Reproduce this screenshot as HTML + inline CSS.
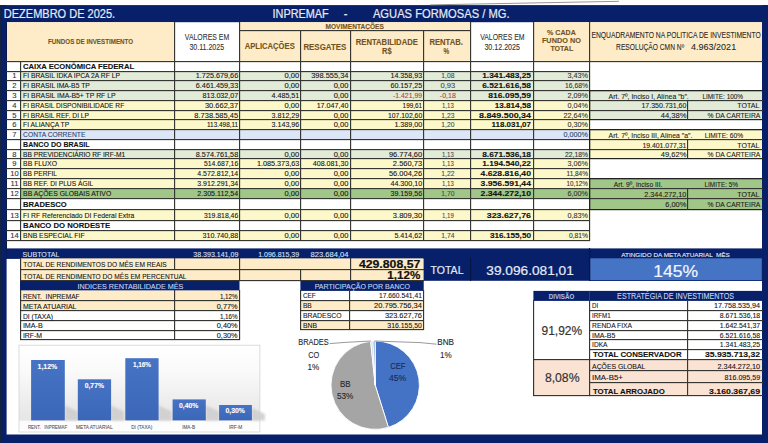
<!DOCTYPE html><html><head><meta charset="utf-8"><style>html,body{margin:0;padding:0;background:#fff;overflow:hidden}svg{display:block}text{white-space:pre;font-family:"Liberation Sans",sans-serif}</style></head><body>
<svg width="768" height="443" viewBox="0 0 768 443">
<rect x="0.00" y="0.00" width="768.00" height="443.00" fill="#ffffff"/>
<rect x="0.00" y="5.10" width="768.00" height="17.10" fill="#072069"/>
<rect x="0.00" y="5.10" width="6.60" height="437.90" fill="#072069"/>
<rect x="762.00" y="5.10" width="6.00" height="437.90" fill="#072069"/>
<rect x="0.00" y="434.50" width="768.00" height="8.50" fill="#072069"/>
<rect x="0.00" y="5.10" width="1.60" height="437.90" fill="#14243c"/>
<line x1="430" y1="4.9" x2="619" y2="1.3" stroke="#8a8a8a" stroke-width="0.9"/>
<rect x="7.00" y="22.20" width="167.50" height="39.00" fill="#feecc9"/>
<rect x="239.50" y="22.20" width="230.90" height="39.00" fill="#feecc9"/>
<rect x="533.70" y="22.20" width="228.30" height="39.00" fill="#feecc9"/>
<rect x="6.00" y="22.20" width="1.00" height="236.70" fill="#0a1a48"/>
<rect x="20.00" y="61.10" width="569.50" height="10.30" fill="#ffffff"/>
<rect x="20.00" y="71.40" width="569.50" height="9.40" fill="#e1ebd8"/>
<rect x="20.00" y="80.80" width="569.50" height="9.80" fill="#e1ebd8"/>
<rect x="20.00" y="90.60" width="569.50" height="9.80" fill="#e1ebd8"/>
<rect x="20.00" y="100.40" width="569.50" height="9.95" fill="#fdf8ca"/>
<rect x="20.00" y="110.35" width="569.50" height="9.55" fill="#fdf8ca"/>
<rect x="20.00" y="119.90" width="569.50" height="9.90" fill="#fdf8ca"/>
<rect x="20.00" y="129.80" width="569.50" height="9.70" fill="#dce6f7"/>
<rect x="20.00" y="139.50" width="569.50" height="9.50" fill="#ffffff"/>
<rect x="20.00" y="149.00" width="569.50" height="9.85" fill="#e1ebd8"/>
<rect x="20.00" y="158.85" width="569.50" height="9.65" fill="#fdf8ca"/>
<rect x="20.00" y="168.50" width="569.50" height="9.80" fill="#fdf8ca"/>
<rect x="20.00" y="178.30" width="569.50" height="9.90" fill="#fdf8ca"/>
<rect x="20.00" y="188.20" width="569.50" height="9.90" fill="#a0c788"/>
<rect x="20.00" y="198.10" width="569.50" height="11.70" fill="#ffffff"/>
<rect x="20.00" y="209.80" width="569.50" height="10.80" fill="#fdf8ca"/>
<rect x="20.00" y="220.60" width="569.50" height="9.90" fill="#ffffff"/>
<rect x="20.00" y="230.50" width="569.50" height="10.00" fill="#fdf8ca"/>
<rect x="589.50" y="90.90" width="172.50" height="28.90" fill="#e1ebd8"/>
<rect x="589.50" y="129.60" width="172.50" height="29.30" fill="#fdf8ca"/>
<rect x="589.50" y="178.50" width="172.50" height="31.20" fill="#a0c788"/>
<rect x="6.60" y="248.40" width="755.40" height="10.50" fill="#072069"/>
<rect x="589.50" y="258.00" width="172.50" height="23.00" fill="#072069"/>
<rect x="20.00" y="258.40" width="403.60" height="22.40" fill="#feecc9"/>
<rect x="423.60" y="258.00" width="165.90" height="22.80" fill="#072069"/>
<rect x="590.20" y="258.30" width="171.60" height="21.90" fill="#4674c5"/>
<rect x="20.00" y="281.00" width="219.50" height="9.60" fill="#072069"/>
<rect x="20.00" y="290.60" width="219.50" height="20.00" fill="#feecc9"/>
<rect x="300.40" y="281.00" width="123.30" height="9.90" fill="#072069"/>
<rect x="300.40" y="300.30" width="123.30" height="9.90" fill="#feecc9"/>
<rect x="300.40" y="320.20" width="123.30" height="9.70" fill="#feecc9"/>
<rect x="533.40" y="290.90" width="228.60" height="10.00" fill="#072069"/>
<rect x="589.3" y="290.9" width="0.6" height="10" fill="#3b5590"/>
<rect x="533.40" y="359.00" width="228.60" height="36.60" fill="#fbe3d4"/>
<rect x="239.00" y="30.00" width="232.00" height="1.15" fill="#363632"/>
<rect x="6.00" y="61.00" width="757.00" height="1.15" fill="#363632"/>
<rect x="174.00" y="22.00" width="1.15" height="40.00" fill="#363632"/>
<rect x="239.00" y="22.00" width="1.15" height="40.00" fill="#363632"/>
<rect x="470.00" y="22.00" width="1.15" height="40.00" fill="#363632"/>
<rect x="533.00" y="22.00" width="1.15" height="40.00" fill="#363632"/>
<rect x="589.00" y="22.00" width="1.15" height="40.00" fill="#363632"/>
<rect x="300.00" y="30.00" width="1.15" height="32.00" fill="#363632"/>
<rect x="350.00" y="30.00" width="1.15" height="32.00" fill="#363632"/>
<rect x="423.00" y="30.00" width="1.15" height="32.00" fill="#363632"/>
<rect x="6.00" y="71.00" width="584.00" height="1.15" fill="#363632"/>
<rect x="6.00" y="80.00" width="584.00" height="1.15" fill="#363632"/>
<rect x="6.00" y="90.00" width="584.00" height="1.15" fill="#363632"/>
<rect x="6.00" y="100.00" width="584.00" height="1.15" fill="#363632"/>
<rect x="6.00" y="110.00" width="584.00" height="1.15" fill="#363632"/>
<rect x="6.00" y="119.00" width="584.00" height="1.15" fill="#363632"/>
<rect x="6.00" y="129.00" width="584.00" height="1.15" fill="#363632"/>
<rect x="6.00" y="139.00" width="584.00" height="1.15" fill="#363632"/>
<rect x="6.00" y="149.00" width="584.00" height="1.15" fill="#363632"/>
<rect x="6.00" y="158.00" width="584.00" height="1.15" fill="#363632"/>
<rect x="6.00" y="168.00" width="584.00" height="1.15" fill="#363632"/>
<rect x="6.00" y="178.00" width="584.00" height="1.15" fill="#363632"/>
<rect x="6.00" y="188.00" width="584.00" height="1.15" fill="#363632"/>
<rect x="6.00" y="198.00" width="584.00" height="1.15" fill="#363632"/>
<rect x="6.00" y="209.00" width="584.00" height="1.15" fill="#363632"/>
<rect x="6.00" y="220.00" width="584.00" height="1.15" fill="#363632"/>
<rect x="6.00" y="230.00" width="584.00" height="1.15" fill="#363632"/>
<rect x="6.00" y="240.00" width="584.00" height="1.15" fill="#363632"/>
<rect x="20.00" y="61.00" width="1.15" height="180.00" fill="#363632"/>
<rect x="174.00" y="61.00" width="1.15" height="180.00" fill="#363632"/>
<rect x="239.00" y="61.00" width="1.15" height="180.00" fill="#363632"/>
<rect x="300.00" y="61.00" width="1.15" height="180.00" fill="#363632"/>
<rect x="350.00" y="61.00" width="1.15" height="180.00" fill="#363632"/>
<rect x="423.00" y="61.00" width="1.15" height="180.00" fill="#363632"/>
<rect x="470.00" y="61.00" width="1.15" height="180.00" fill="#363632"/>
<rect x="533.00" y="61.00" width="1.15" height="180.00" fill="#363632"/>
<rect x="589.00" y="61.00" width="1.15" height="180.00" fill="#363632"/>
<rect x="589.00" y="90.00" width="174.00" height="1.30" fill="#222"/>
<rect x="589.00" y="100.00" width="174.00" height="1.15" fill="#363632"/>
<rect x="589.00" y="110.00" width="174.00" height="1.15" fill="#363632"/>
<rect x="589.00" y="119.00" width="174.00" height="1.20" fill="#222"/>
<rect x="589.00" y="90.00" width="1.20" height="30.00" fill="#222"/>
<rect x="687.00" y="100.00" width="1.15" height="20.00" fill="#363632"/>
<rect x="589.00" y="129.00" width="174.00" height="1.30" fill="#222"/>
<rect x="589.00" y="139.00" width="174.00" height="1.15" fill="#363632"/>
<rect x="589.00" y="149.00" width="174.00" height="1.15" fill="#363632"/>
<rect x="589.00" y="158.00" width="174.00" height="1.20" fill="#222"/>
<rect x="589.00" y="129.00" width="1.20" height="30.00" fill="#222"/>
<rect x="687.00" y="139.00" width="1.15" height="20.00" fill="#363632"/>
<rect x="589.00" y="178.00" width="174.00" height="1.30" fill="#222"/>
<rect x="589.00" y="188.00" width="174.00" height="1.15" fill="#363632"/>
<rect x="589.00" y="198.00" width="174.00" height="1.15" fill="#363632"/>
<rect x="589.00" y="209.00" width="174.00" height="1.20" fill="#222"/>
<rect x="589.00" y="178.00" width="1.20" height="32.00" fill="#222"/>
<rect x="687.00" y="188.00" width="1.15" height="22.00" fill="#363632"/>
<rect x="20.00" y="269.00" width="404.00" height="1.15" fill="#363632"/>
<rect x="20.00" y="280.00" width="404.00" height="1.15" fill="#363632"/>
<rect x="20.00" y="258.00" width="1.15" height="23.00" fill="#363632"/>
<rect x="174.00" y="258.00" width="1.15" height="12.00" fill="#363632"/>
<rect x="239.00" y="258.00" width="1.15" height="23.00" fill="#363632"/>
<rect x="300.00" y="269.00" width="1.15" height="12.00" fill="#363632"/>
<rect x="350.00" y="258.00" width="1.15" height="23.00" fill="#363632"/>
<rect x="470.00" y="258.00" width="1.15" height="23.00" fill="#061640"/>
<rect x="589.00" y="248.00" width="1.15" height="33.00" fill="#061640"/>
<rect x="20.00" y="300.00" width="220.00" height="1.15" fill="#363632"/>
<rect x="20.00" y="310.00" width="220.00" height="1.15" fill="#363632"/>
<rect x="20.00" y="320.00" width="220.00" height="1.15" fill="#363632"/>
<rect x="20.00" y="330.00" width="220.00" height="1.15" fill="#363632"/>
<rect x="20.00" y="339.00" width="220.00" height="1.15" fill="#363632"/>
<rect x="20.00" y="290.00" width="1.15" height="50.00" fill="#363632"/>
<rect x="174.00" y="290.00" width="1.15" height="50.00" fill="#363632"/>
<rect x="239.00" y="290.00" width="1.15" height="50.00" fill="#363632"/>
<rect x="300.00" y="300.00" width="124.00" height="1.15" fill="#363632"/>
<rect x="300.00" y="310.00" width="124.00" height="1.15" fill="#363632"/>
<rect x="300.00" y="320.00" width="124.00" height="1.15" fill="#363632"/>
<rect x="300.00" y="329.00" width="124.00" height="1.15" fill="#363632"/>
<rect x="300.00" y="290.00" width="1.15" height="40.00" fill="#363632"/>
<rect x="349.00" y="290.00" width="1.15" height="40.00" fill="#363632"/>
<rect x="423.00" y="290.00" width="1.15" height="40.00" fill="#363632"/>
<rect x="589.00" y="310.00" width="174.00" height="1.15" fill="#363632"/>
<rect x="589.00" y="320.00" width="174.00" height="1.15" fill="#363632"/>
<rect x="589.00" y="330.00" width="174.00" height="1.15" fill="#363632"/>
<rect x="589.00" y="339.00" width="174.00" height="1.15" fill="#363632"/>
<rect x="589.00" y="349.00" width="174.00" height="1.15" fill="#363632"/>
<rect x="589.00" y="359.00" width="174.00" height="1.15" fill="#363632"/>
<rect x="589.00" y="370.00" width="174.00" height="1.15" fill="#363632"/>
<rect x="589.00" y="382.00" width="174.00" height="1.15" fill="#363632"/>
<rect x="589.00" y="395.00" width="174.00" height="1.15" fill="#363632"/>
<rect x="533.00" y="359.00" width="57.00" height="1.15" fill="#363632"/>
<rect x="533.00" y="395.00" width="57.00" height="1.15" fill="#363632"/>
<rect x="533.00" y="300.00" width="1.15" height="96.00" fill="#363632"/>
<rect x="589.00" y="300.00" width="1.15" height="96.00" fill="#363632"/>
<rect x="687.00" y="300.00" width="1.15" height="96.00" fill="#363632"/>
<text x="3.80" y="17.80" font-size="12.30" font-weight="400" fill="#e4ebf8" stroke="#e4ebf8" stroke-width="0.2" textLength="111.34" lengthAdjust="spacingAndGlyphs">DEZEMBRO DE 2025.</text>
<text x="272.50" y="17.80" font-size="12.30" font-weight="400" fill="#e4ebf8" stroke="#e4ebf8" stroke-width="0.2" textLength="56.27" lengthAdjust="spacingAndGlyphs">INPREMAF</text>
<text x="343.80" y="17.80" font-size="12.30" font-weight="400" fill="#e4ebf8" stroke="#e4ebf8" stroke-width="0.2" textLength="3.73" lengthAdjust="spacingAndGlyphs">-</text>
<text x="372.90" y="17.70" font-size="12.30" font-weight="400" fill="#e4ebf8" stroke="#e4ebf8" stroke-width="0.2" textLength="136.74" lengthAdjust="spacingAndGlyphs">AGUAS FORMOSAS / MG.</text>
<text x="48.00" y="43.80" font-size="7.60" font-weight="700" fill="#74531c" stroke="#74531c" stroke-width="0.1" textLength="85.10" lengthAdjust="spacingAndGlyphs">FUNDOS DE INVESTIMENTO</text>
<text x="184.80" y="39.80" font-size="8.50" font-weight="400" fill="#333" stroke="#333" stroke-width="0.1" textLength="44.38" lengthAdjust="spacingAndGlyphs">VALORES EM</text>
<text x="189.40" y="49.60" font-size="8.50" font-weight="400" fill="#333" stroke="#333" stroke-width="0.1" textLength="34.70" lengthAdjust="spacingAndGlyphs">30.11.2025</text>
<text x="325.50" y="29.10" font-size="7.20" font-weight="700" fill="#74531c" stroke="#74531c" stroke-width="0.1" textLength="58.30" lengthAdjust="spacingAndGlyphs">MOVIMENTAÇÕES</text>
<text x="244.70" y="49.20" font-size="8.20" font-weight="700" fill="#74531c" stroke="#74531c" stroke-width="0.1" textLength="50.07" lengthAdjust="spacingAndGlyphs">APLICAÇÕES</text>
<text x="303.40" y="49.50" font-size="8.20" font-weight="700" fill="#74531c" stroke="#74531c" stroke-width="0.1" textLength="42.88" lengthAdjust="spacingAndGlyphs">RESGATES</text>
<text x="355.80" y="44.60" font-size="8.20" font-weight="700" fill="#74531c" stroke="#74531c" stroke-width="0.1" textLength="62.02" lengthAdjust="spacingAndGlyphs">RENTABILIDADE</text>
<text x="382.00" y="54.20" font-size="8.20" font-weight="700" fill="#74531c" stroke="#74531c" stroke-width="0.1" textLength="9.59" lengthAdjust="spacingAndGlyphs">R$</text>
<text x="429.40" y="44.60" font-size="8.20" font-weight="700" fill="#74531c" stroke="#74531c" stroke-width="0.1" textLength="33.50" lengthAdjust="spacingAndGlyphs">RENTAB.</text>
<text x="443.50" y="54.20" font-size="8.20" font-weight="700" fill="#74531c" stroke="#74531c" stroke-width="0.1" textLength="5.69" lengthAdjust="spacingAndGlyphs">%</text>
<text x="480.20" y="39.80" font-size="8.50" font-weight="400" fill="#333" stroke="#333" stroke-width="0.1" textLength="44.28" lengthAdjust="spacingAndGlyphs">VALORES EM</text>
<text x="484.40" y="49.60" font-size="8.50" font-weight="400" fill="#333" stroke="#333" stroke-width="0.1" textLength="35.53" lengthAdjust="spacingAndGlyphs">30.12.2025</text>
<text x="547.00" y="35.20" font-size="6.90" font-weight="700" fill="#74531c" stroke="#74531c" stroke-width="0.1" textLength="28.77" lengthAdjust="spacingAndGlyphs">% CADA</text>
<text x="541.90" y="43.20" font-size="6.90" font-weight="700" fill="#74531c" stroke="#74531c" stroke-width="0.1" textLength="39.02" lengthAdjust="spacingAndGlyphs">FUNDO NO</text>
<text x="550.40" y="50.80" font-size="6.90" font-weight="700" fill="#74531c" stroke="#74531c" stroke-width="0.1" textLength="22.80" lengthAdjust="spacingAndGlyphs">TOTAL</text>
<text x="591.50" y="38.30" font-size="8.60" font-weight="400" fill="#2a2a2a" stroke="#2a2a2a" stroke-width="0.1" textLength="169.19" lengthAdjust="spacingAndGlyphs">ENQUADRAMENTO NA POLITICA DE INVESTIMENTO</text>
<text x="616.10" y="49.80" font-size="8.60" font-weight="400" fill="#2a2a2a" stroke="#2a2a2a" stroke-width="0.1" textLength="68.00" lengthAdjust="spacingAndGlyphs">RESOLUÇÃO CMN Nº</text>
<text x="691.10" y="49.80" font-size="9.40" font-weight="400" fill="#2a2a2a" stroke="#2a2a2a" stroke-width="0.1" textLength="45.04" lengthAdjust="spacingAndGlyphs">4.963/2021</text>
<text x="23.10" y="69.05" font-size="7.90" font-weight="700" fill="#111" stroke="#111" stroke-width="0.1" textLength="110.98" lengthAdjust="spacingAndGlyphs">CAIXA ECONÔMICA FEDERAL</text>
<text x="12.37" y="78.45" font-size="7.60" font-weight="400" fill="#333" stroke="#333" stroke-width="0.1" textLength="4.23" lengthAdjust="spacingAndGlyphs">1</text>
<text x="23.10" y="78.45" font-size="7.40" font-weight="400" fill="#141414" stroke="#141414" stroke-width="0.1" textLength="96.88" lengthAdjust="spacingAndGlyphs">FI BRASIL IDKA IPCA 2A RF LP</text>
<text x="195.79" y="78.45" font-size="7.40" font-weight="400" fill="#141414" stroke="#141414" stroke-width="0.1" textLength="42.40" lengthAdjust="spacingAndGlyphs">1.725.679,66</text>
<text x="284.57" y="78.45" font-size="7.40" font-weight="400" fill="#141414" stroke="#141414" stroke-width="0.1" textLength="14.70" lengthAdjust="spacingAndGlyphs">0,00</text>
<text x="311.20" y="78.45" font-size="7.40" font-weight="400" fill="#141414" stroke="#141414" stroke-width="0.1" textLength="37.23" lengthAdjust="spacingAndGlyphs">398.555,34</text>
<text x="390.44" y="78.45" font-size="7.40" font-weight="400" fill="#141414" stroke="#141414" stroke-width="0.1" textLength="31.75" lengthAdjust="spacingAndGlyphs">14.358,93</text>
<text x="441.28" y="78.45" font-size="7.40" font-weight="400" fill="#4a4a4a" stroke="#4a4a4a" stroke-width="0.1" textLength="13.20" lengthAdjust="spacingAndGlyphs">1,08</text>
<text x="482.19" y="78.45" font-size="7.40" font-weight="700" fill="#111" stroke="#111" stroke-width="0.1" textLength="48.80" lengthAdjust="spacingAndGlyphs">1.341.483,25</text>
<text x="567.47" y="78.45" font-size="7.40" font-weight="400" fill="#333" stroke="#333" stroke-width="0.1" textLength="20.50" lengthAdjust="spacingAndGlyphs">3,43%</text>
<text x="12.37" y="88.25" font-size="7.60" font-weight="400" fill="#333" stroke="#333" stroke-width="0.1" textLength="4.23" lengthAdjust="spacingAndGlyphs">2</text>
<text x="23.10" y="88.25" font-size="7.40" font-weight="400" fill="#141414" stroke="#141414" stroke-width="0.1" textLength="66.77" lengthAdjust="spacingAndGlyphs">FI BRASIL IMA-B5 TP</text>
<text x="195.79" y="88.25" font-size="7.40" font-weight="400" fill="#141414" stroke="#141414" stroke-width="0.1" textLength="42.40" lengthAdjust="spacingAndGlyphs">6.461.459,33</text>
<text x="284.57" y="88.25" font-size="7.40" font-weight="400" fill="#141414" stroke="#141414" stroke-width="0.1" textLength="14.70" lengthAdjust="spacingAndGlyphs">0,00</text>
<text x="333.67" y="88.25" font-size="7.40" font-weight="400" fill="#141414" stroke="#141414" stroke-width="0.1" textLength="14.70" lengthAdjust="spacingAndGlyphs">0,00</text>
<text x="390.44" y="88.25" font-size="7.40" font-weight="400" fill="#141414" stroke="#141414" stroke-width="0.1" textLength="31.75" lengthAdjust="spacingAndGlyphs">60.157,25</text>
<text x="440.53" y="88.25" font-size="7.40" font-weight="400" fill="#4a4a4a" stroke="#4a4a4a" stroke-width="0.1" textLength="14.70" lengthAdjust="spacingAndGlyphs">0,93</text>
<text x="482.19" y="88.25" font-size="7.40" font-weight="700" fill="#111" stroke="#111" stroke-width="0.1" textLength="48.80" lengthAdjust="spacingAndGlyphs">6.521.616,58</text>
<text x="565.03" y="88.25" font-size="7.40" font-weight="400" fill="#333" stroke="#333" stroke-width="0.1" textLength="22.98" lengthAdjust="spacingAndGlyphs">16,68%</text>
<text x="12.37" y="98.05" font-size="7.60" font-weight="400" fill="#333" stroke="#333" stroke-width="0.1" textLength="4.23" lengthAdjust="spacingAndGlyphs">3</text>
<text x="23.10" y="98.05" font-size="7.40" font-weight="400" fill="#141414" stroke="#141414" stroke-width="0.1" textLength="92.42" lengthAdjust="spacingAndGlyphs">FI BRASIL IMA-B5+ TP RF LP</text>
<text x="202.50" y="98.05" font-size="7.40" font-weight="400" fill="#141414" stroke="#141414" stroke-width="0.1" textLength="35.73" lengthAdjust="spacingAndGlyphs">813.032,07</text>
<text x="271.48" y="98.05" font-size="7.40" font-weight="400" fill="#141414" stroke="#141414" stroke-width="0.1" textLength="27.84" lengthAdjust="spacingAndGlyphs">4.485,51</text>
<text x="333.67" y="98.05" font-size="7.40" font-weight="400" fill="#141414" stroke="#141414" stroke-width="0.1" textLength="14.70" lengthAdjust="spacingAndGlyphs">0,00</text>
<text x="392.88" y="98.05" font-size="7.40" font-weight="400" fill="#c23b30" stroke="#c23b30" stroke-width="0.1" textLength="29.29" lengthAdjust="spacingAndGlyphs">-1.421,99</text>
<text x="439.78" y="98.05" font-size="7.40" font-weight="400" fill="#c23b30" stroke="#c23b30" stroke-width="0.1" textLength="16.22" lengthAdjust="spacingAndGlyphs">-0,18</text>
<text x="488.32" y="98.05" font-size="7.40" font-weight="700" fill="#111" stroke="#111" stroke-width="0.1" textLength="42.72" lengthAdjust="spacingAndGlyphs">816.095,59</text>
<text x="567.47" y="98.05" font-size="7.40" font-weight="400" fill="#333" stroke="#333" stroke-width="0.1" textLength="20.50" lengthAdjust="spacingAndGlyphs">2,09%</text>
<text x="12.37" y="108.00" font-size="7.60" font-weight="400" fill="#333" stroke="#333" stroke-width="0.1" textLength="4.23" lengthAdjust="spacingAndGlyphs">4</text>
<text x="23.10" y="108.00" font-size="7.40" font-weight="400" fill="#141414" stroke="#141414" stroke-width="0.1" textLength="101.13" lengthAdjust="spacingAndGlyphs">FI BRASIL DISPONIBILIDADE RF</text>
<text x="204.94" y="108.00" font-size="7.40" font-weight="400" fill="#141414" stroke="#141414" stroke-width="0.1" textLength="33.25" lengthAdjust="spacingAndGlyphs">30.662,37</text>
<text x="284.57" y="108.00" font-size="7.40" font-weight="400" fill="#141414" stroke="#141414" stroke-width="0.1" textLength="14.70" lengthAdjust="spacingAndGlyphs">0,00</text>
<text x="316.64" y="108.00" font-size="7.40" font-weight="400" fill="#141414" stroke="#141414" stroke-width="0.1" textLength="31.75" lengthAdjust="spacingAndGlyphs">17.047,40</text>
<text x="402.59" y="108.00" font-size="7.40" font-weight="400" fill="#141414" stroke="#141414" stroke-width="0.1" textLength="19.60" lengthAdjust="spacingAndGlyphs">199,61</text>
<text x="442.03" y="108.00" font-size="7.40" font-weight="400" fill="#4a4a4a" stroke="#4a4a4a" stroke-width="0.1" textLength="11.71" lengthAdjust="spacingAndGlyphs">1,13</text>
<text x="494.69" y="108.00" font-size="7.40" font-weight="700" fill="#111" stroke="#111" stroke-width="0.1" textLength="36.30" lengthAdjust="spacingAndGlyphs">13.814,58</text>
<text x="567.47" y="108.00" font-size="7.40" font-weight="400" fill="#333" stroke="#333" stroke-width="0.1" textLength="20.50" lengthAdjust="spacingAndGlyphs">0,04%</text>
<text x="12.37" y="117.55" font-size="7.60" font-weight="400" fill="#333" stroke="#333" stroke-width="0.1" textLength="4.23" lengthAdjust="spacingAndGlyphs">5</text>
<text x="23.10" y="117.55" font-size="7.40" font-weight="400" fill="#141414" stroke="#141414" stroke-width="0.1" textLength="65.90" lengthAdjust="spacingAndGlyphs">FI BRASIL REF. DI LP</text>
<text x="194.29" y="117.55" font-size="7.40" font-weight="400" fill="#141414" stroke="#141414" stroke-width="0.1" textLength="43.90" lengthAdjust="spacingAndGlyphs">8.738.585,45</text>
<text x="271.48" y="117.55" font-size="7.40" font-weight="400" fill="#141414" stroke="#141414" stroke-width="0.1" textLength="27.84" lengthAdjust="spacingAndGlyphs">3.812,29</text>
<text x="333.67" y="117.55" font-size="7.40" font-weight="400" fill="#141414" stroke="#141414" stroke-width="0.1" textLength="14.70" lengthAdjust="spacingAndGlyphs">0,00</text>
<text x="388.00" y="117.55" font-size="7.40" font-weight="400" fill="#141414" stroke="#141414" stroke-width="0.1" textLength="34.23" lengthAdjust="spacingAndGlyphs">107.102,60</text>
<text x="441.28" y="117.55" font-size="7.40" font-weight="400" fill="#4a4a4a" stroke="#4a4a4a" stroke-width="0.1" textLength="13.20" lengthAdjust="spacingAndGlyphs">1,23</text>
<text x="478.99" y="117.55" font-size="7.40" font-weight="700" fill="#111" stroke="#111" stroke-width="0.1" textLength="51.99" lengthAdjust="spacingAndGlyphs">8.849.500,34</text>
<text x="563.53" y="117.55" font-size="7.40" font-weight="400" fill="#333" stroke="#333" stroke-width="0.1" textLength="24.48" lengthAdjust="spacingAndGlyphs">22,64%</text>
<text x="12.37" y="127.45" font-size="7.60" font-weight="400" fill="#333" stroke="#333" stroke-width="0.1" textLength="4.23" lengthAdjust="spacingAndGlyphs">6</text>
<text x="23.10" y="127.45" font-size="7.40" font-weight="400" fill="#141414" stroke="#141414" stroke-width="0.1" textLength="46.02" lengthAdjust="spacingAndGlyphs">FI ALIANÇA TP</text>
<text x="207.00" y="127.45" font-size="7.40" font-weight="400" fill="#141414" stroke="#141414" stroke-width="0.1" textLength="31.17" lengthAdjust="spacingAndGlyphs">113.498,11</text>
<text x="271.48" y="127.45" font-size="7.40" font-weight="400" fill="#141414" stroke="#141414" stroke-width="0.1" textLength="27.84" lengthAdjust="spacingAndGlyphs">3.143,96</text>
<text x="333.67" y="127.45" font-size="7.40" font-weight="400" fill="#141414" stroke="#141414" stroke-width="0.1" textLength="14.70" lengthAdjust="spacingAndGlyphs">0,00</text>
<text x="394.38" y="127.45" font-size="7.40" font-weight="400" fill="#141414" stroke="#141414" stroke-width="0.1" textLength="27.84" lengthAdjust="spacingAndGlyphs">1.389,00</text>
<text x="441.28" y="127.45" font-size="7.40" font-weight="400" fill="#4a4a4a" stroke="#4a4a4a" stroke-width="0.1" textLength="13.20" lengthAdjust="spacingAndGlyphs">1,20</text>
<text x="491.52" y="127.45" font-size="7.40" font-weight="700" fill="#111" stroke="#111" stroke-width="0.1" textLength="39.47" lengthAdjust="spacingAndGlyphs">118.031,07</text>
<text x="567.47" y="127.45" font-size="7.40" font-weight="400" fill="#333" stroke="#333" stroke-width="0.1" textLength="20.50" lengthAdjust="spacingAndGlyphs">0,30%</text>
<text x="12.37" y="137.15" font-size="7.60" font-weight="400" fill="#333" stroke="#333" stroke-width="0.1" textLength="4.23" lengthAdjust="spacingAndGlyphs">7</text>
<text x="23.10" y="137.15" font-size="7.40" font-weight="400" fill="#2c4470" stroke="#2c4470" stroke-width="0.1" textLength="62.30" lengthAdjust="spacingAndGlyphs">CONTA CORRENTE</text>
<text x="563.53" y="137.15" font-size="7.40" font-weight="400" fill="#2c4470" stroke="#2c4470" stroke-width="0.1" textLength="24.48" lengthAdjust="spacingAndGlyphs">0,000%</text>
<text x="23.10" y="146.65" font-size="7.90" font-weight="700" fill="#111" stroke="#111" stroke-width="0.1" textLength="66.53" lengthAdjust="spacingAndGlyphs">BANCO DO BRASIL</text>
<text x="12.37" y="156.50" font-size="7.60" font-weight="400" fill="#333" stroke="#333" stroke-width="0.1" textLength="4.23" lengthAdjust="spacingAndGlyphs">8</text>
<text x="23.10" y="156.50" font-size="7.40" font-weight="400" fill="#141414" stroke="#141414" stroke-width="0.1" textLength="102.00" lengthAdjust="spacingAndGlyphs">BB PREVIDENCIÁRIO RF IRF-M1</text>
<text x="195.79" y="156.50" font-size="7.40" font-weight="400" fill="#141414" stroke="#141414" stroke-width="0.1" textLength="42.40" lengthAdjust="spacingAndGlyphs">8.574.761,58</text>
<text x="284.57" y="156.50" font-size="7.40" font-weight="400" fill="#141414" stroke="#141414" stroke-width="0.1" textLength="14.70" lengthAdjust="spacingAndGlyphs">0,00</text>
<text x="333.67" y="156.50" font-size="7.40" font-weight="400" fill="#141414" stroke="#141414" stroke-width="0.1" textLength="14.70" lengthAdjust="spacingAndGlyphs">0,00</text>
<text x="388.94" y="156.50" font-size="7.40" font-weight="400" fill="#141414" stroke="#141414" stroke-width="0.1" textLength="33.25" lengthAdjust="spacingAndGlyphs">96.774,60</text>
<text x="442.03" y="156.50" font-size="7.40" font-weight="400" fill="#4a4a4a" stroke="#4a4a4a" stroke-width="0.1" textLength="11.71" lengthAdjust="spacingAndGlyphs">1,13</text>
<text x="482.19" y="156.50" font-size="7.40" font-weight="700" fill="#111" stroke="#111" stroke-width="0.1" textLength="48.80" lengthAdjust="spacingAndGlyphs">8.671.536,18</text>
<text x="565.03" y="156.50" font-size="7.40" font-weight="400" fill="#333" stroke="#333" stroke-width="0.1" textLength="22.98" lengthAdjust="spacingAndGlyphs">22,18%</text>
<text x="12.37" y="166.15" font-size="7.60" font-weight="400" fill="#333" stroke="#333" stroke-width="0.1" textLength="4.23" lengthAdjust="spacingAndGlyphs">9</text>
<text x="23.10" y="166.15" font-size="7.40" font-weight="400" fill="#141414" stroke="#141414" stroke-width="0.1" textLength="33.87" lengthAdjust="spacingAndGlyphs">BB FLUXO</text>
<text x="204.00" y="166.15" font-size="7.40" font-weight="400" fill="#141414" stroke="#141414" stroke-width="0.1" textLength="34.23" lengthAdjust="spacingAndGlyphs">514.687,16</text>
<text x="256.89" y="166.15" font-size="7.40" font-weight="400" fill="#141414" stroke="#141414" stroke-width="0.1" textLength="42.40" lengthAdjust="spacingAndGlyphs">1.085.373,63</text>
<text x="312.70" y="166.15" font-size="7.40" font-weight="400" fill="#141414" stroke="#141414" stroke-width="0.1" textLength="35.73" lengthAdjust="spacingAndGlyphs">408.081,30</text>
<text x="392.88" y="166.15" font-size="7.40" font-weight="400" fill="#141414" stroke="#141414" stroke-width="0.1" textLength="29.34" lengthAdjust="spacingAndGlyphs">2.560,73</text>
<text x="442.03" y="166.15" font-size="7.40" font-weight="400" fill="#4a4a4a" stroke="#4a4a4a" stroke-width="0.1" textLength="11.71" lengthAdjust="spacingAndGlyphs">1,13</text>
<text x="482.19" y="166.15" font-size="7.40" font-weight="700" fill="#111" stroke="#111" stroke-width="0.1" textLength="48.80" lengthAdjust="spacingAndGlyphs">1.194.540,22</text>
<text x="567.47" y="166.15" font-size="7.40" font-weight="400" fill="#333" stroke="#333" stroke-width="0.1" textLength="20.50" lengthAdjust="spacingAndGlyphs">3,06%</text>
<text x="10.28" y="175.95" font-size="7.60" font-weight="400" fill="#333" stroke="#333" stroke-width="0.1" textLength="8.45" lengthAdjust="spacingAndGlyphs">10</text>
<text x="23.10" y="175.95" font-size="7.40" font-weight="400" fill="#141414" stroke="#141414" stroke-width="0.1" textLength="33.92" lengthAdjust="spacingAndGlyphs">BB PERFIL</text>
<text x="197.29" y="175.95" font-size="7.40" font-weight="400" fill="#141414" stroke="#141414" stroke-width="0.1" textLength="40.90" lengthAdjust="spacingAndGlyphs">4.572.812,14</text>
<text x="284.57" y="175.95" font-size="7.40" font-weight="400" fill="#141414" stroke="#141414" stroke-width="0.1" textLength="14.70" lengthAdjust="spacingAndGlyphs">0,00</text>
<text x="333.67" y="175.95" font-size="7.40" font-weight="400" fill="#141414" stroke="#141414" stroke-width="0.1" textLength="14.70" lengthAdjust="spacingAndGlyphs">0,00</text>
<text x="388.94" y="175.95" font-size="7.40" font-weight="400" fill="#141414" stroke="#141414" stroke-width="0.1" textLength="33.25" lengthAdjust="spacingAndGlyphs">56.004,26</text>
<text x="441.28" y="175.95" font-size="7.40" font-weight="400" fill="#4a4a4a" stroke="#4a4a4a" stroke-width="0.1" textLength="13.20" lengthAdjust="spacingAndGlyphs">1,22</text>
<text x="480.59" y="175.95" font-size="7.40" font-weight="700" fill="#111" stroke="#111" stroke-width="0.1" textLength="50.40" lengthAdjust="spacingAndGlyphs">4.628.816,40</text>
<text x="566.53" y="175.95" font-size="7.40" font-weight="400" fill="#333" stroke="#333" stroke-width="0.1" textLength="21.45" lengthAdjust="spacingAndGlyphs">11,84%</text>
<text x="10.55" y="185.85" font-size="7.60" font-weight="400" fill="#333" stroke="#333" stroke-width="0.1" textLength="7.89" lengthAdjust="spacingAndGlyphs">11</text>
<text x="23.10" y="185.85" font-size="7.40" font-weight="400" fill="#141414" stroke="#141414" stroke-width="0.1" textLength="70.12" lengthAdjust="spacingAndGlyphs">BB REF. DI PLUS ÁGIL</text>
<text x="197.29" y="185.85" font-size="7.40" font-weight="400" fill="#141414" stroke="#141414" stroke-width="0.1" textLength="40.90" lengthAdjust="spacingAndGlyphs">3.912.291,34</text>
<text x="284.57" y="185.85" font-size="7.40" font-weight="400" fill="#141414" stroke="#141414" stroke-width="0.1" textLength="14.70" lengthAdjust="spacingAndGlyphs">0,00</text>
<text x="333.67" y="185.85" font-size="7.40" font-weight="400" fill="#141414" stroke="#141414" stroke-width="0.1" textLength="14.70" lengthAdjust="spacingAndGlyphs">0,00</text>
<text x="390.44" y="185.85" font-size="7.40" font-weight="400" fill="#141414" stroke="#141414" stroke-width="0.1" textLength="31.75" lengthAdjust="spacingAndGlyphs">44.300,10</text>
<text x="442.03" y="185.85" font-size="7.40" font-weight="400" fill="#4a4a4a" stroke="#4a4a4a" stroke-width="0.1" textLength="11.71" lengthAdjust="spacingAndGlyphs">1,13</text>
<text x="480.59" y="185.85" font-size="7.40" font-weight="700" fill="#111" stroke="#111" stroke-width="0.1" textLength="50.40" lengthAdjust="spacingAndGlyphs">3.956.591,44</text>
<text x="566.53" y="185.85" font-size="7.40" font-weight="400" fill="#333" stroke="#333" stroke-width="0.1" textLength="21.48" lengthAdjust="spacingAndGlyphs">10,12%</text>
<text x="10.28" y="195.75" font-size="7.60" font-weight="400" fill="#333" stroke="#333" stroke-width="0.1" textLength="8.45" lengthAdjust="spacingAndGlyphs">12</text>
<text x="23.10" y="195.75" font-size="7.40" font-weight="400" fill="#141414" stroke="#141414" stroke-width="0.1" textLength="88.17" lengthAdjust="spacingAndGlyphs">BB AÇÕES GLOBAIS ATIVO</text>
<text x="197.29" y="195.75" font-size="7.40" font-weight="400" fill="#141414" stroke="#141414" stroke-width="0.1" textLength="40.94" lengthAdjust="spacingAndGlyphs">2.305.112,54</text>
<text x="284.57" y="195.75" font-size="7.40" font-weight="400" fill="#141414" stroke="#141414" stroke-width="0.1" textLength="14.70" lengthAdjust="spacingAndGlyphs">0,00</text>
<text x="333.67" y="195.75" font-size="7.40" font-weight="400" fill="#141414" stroke="#141414" stroke-width="0.1" textLength="14.70" lengthAdjust="spacingAndGlyphs">0,00</text>
<text x="390.44" y="195.75" font-size="7.40" font-weight="400" fill="#141414" stroke="#141414" stroke-width="0.1" textLength="31.75" lengthAdjust="spacingAndGlyphs">39.159,56</text>
<text x="441.28" y="195.75" font-size="7.40" font-weight="400" fill="#4a4a4a" stroke="#4a4a4a" stroke-width="0.1" textLength="13.20" lengthAdjust="spacingAndGlyphs">1,70</text>
<text x="480.59" y="195.75" font-size="7.40" font-weight="700" fill="#111" stroke="#111" stroke-width="0.1" textLength="50.40" lengthAdjust="spacingAndGlyphs">2.344.272,10</text>
<text x="567.47" y="195.75" font-size="7.40" font-weight="400" fill="#333" stroke="#333" stroke-width="0.1" textLength="20.50" lengthAdjust="spacingAndGlyphs">6,00%</text>
<text x="23.10" y="207.45" font-size="7.90" font-weight="700" fill="#111" stroke="#111" stroke-width="0.1" textLength="43.52" lengthAdjust="spacingAndGlyphs">BRADESCO</text>
<text x="10.28" y="218.25" font-size="7.60" font-weight="400" fill="#333" stroke="#333" stroke-width="0.1" textLength="8.45" lengthAdjust="spacingAndGlyphs">13</text>
<text x="23.10" y="218.25" font-size="7.40" font-weight="400" fill="#141414" stroke="#141414" stroke-width="0.1" textLength="111.15" lengthAdjust="spacingAndGlyphs">FI RF Referenciado DI Federal Extra</text>
<text x="204.00" y="218.25" font-size="7.40" font-weight="400" fill="#141414" stroke="#141414" stroke-width="0.1" textLength="34.23" lengthAdjust="spacingAndGlyphs">319.818,46</text>
<text x="284.57" y="218.25" font-size="7.40" font-weight="400" fill="#141414" stroke="#141414" stroke-width="0.1" textLength="14.70" lengthAdjust="spacingAndGlyphs">0,00</text>
<text x="333.67" y="218.25" font-size="7.40" font-weight="400" fill="#141414" stroke="#141414" stroke-width="0.1" textLength="14.70" lengthAdjust="spacingAndGlyphs">0,00</text>
<text x="392.88" y="218.25" font-size="7.40" font-weight="400" fill="#141414" stroke="#141414" stroke-width="0.1" textLength="29.34" lengthAdjust="spacingAndGlyphs">3.809,30</text>
<text x="442.03" y="218.25" font-size="7.40" font-weight="400" fill="#4a4a4a" stroke="#4a4a4a" stroke-width="0.1" textLength="11.71" lengthAdjust="spacingAndGlyphs">1,19</text>
<text x="486.72" y="218.25" font-size="7.40" font-weight="700" fill="#111" stroke="#111" stroke-width="0.1" textLength="44.32" lengthAdjust="spacingAndGlyphs">323.627,76</text>
<text x="567.47" y="218.25" font-size="7.40" font-weight="400" fill="#333" stroke="#333" stroke-width="0.1" textLength="20.50" lengthAdjust="spacingAndGlyphs">0,83%</text>
<text x="23.10" y="228.15" font-size="7.90" font-weight="700" fill="#111" stroke="#111" stroke-width="0.1" textLength="86.99" lengthAdjust="spacingAndGlyphs">BANCO DO NORDESTE</text>
<text x="10.28" y="238.15" font-size="7.60" font-weight="400" fill="#333" stroke="#333" stroke-width="0.1" textLength="8.45" lengthAdjust="spacingAndGlyphs">14</text>
<text x="23.10" y="238.15" font-size="7.40" font-weight="400" fill="#141414" stroke="#141414" stroke-width="0.1" textLength="61.57" lengthAdjust="spacingAndGlyphs">BNB ESPECIAL FIF</text>
<text x="202.50" y="238.15" font-size="7.40" font-weight="400" fill="#141414" stroke="#141414" stroke-width="0.1" textLength="35.73" lengthAdjust="spacingAndGlyphs">310.740,88</text>
<text x="284.57" y="238.15" font-size="7.40" font-weight="400" fill="#141414" stroke="#141414" stroke-width="0.1" textLength="14.70" lengthAdjust="spacingAndGlyphs">0,00</text>
<text x="333.67" y="238.15" font-size="7.40" font-weight="400" fill="#141414" stroke="#141414" stroke-width="0.1" textLength="14.70" lengthAdjust="spacingAndGlyphs">0,00</text>
<text x="394.38" y="238.15" font-size="7.40" font-weight="400" fill="#141414" stroke="#141414" stroke-width="0.1" textLength="27.84" lengthAdjust="spacingAndGlyphs">5.414,62</text>
<text x="441.28" y="238.15" font-size="7.40" font-weight="400" fill="#4a4a4a" stroke="#4a4a4a" stroke-width="0.1" textLength="13.20" lengthAdjust="spacingAndGlyphs">1,74</text>
<text x="489.92" y="238.15" font-size="7.40" font-weight="700" fill="#111" stroke="#111" stroke-width="0.1" textLength="41.12" lengthAdjust="spacingAndGlyphs">316.155,50</text>
<text x="568.97" y="238.15" font-size="7.40" font-weight="400" fill="#333" stroke="#333" stroke-width="0.1" textLength="19.00" lengthAdjust="spacingAndGlyphs">0,81%</text>
<text x="608.60" y="99.00" font-size="7.40" font-weight="400" fill="#1c1c1c" stroke="#1c1c1c" stroke-width="0.1" textLength="80.17" lengthAdjust="spacingAndGlyphs">Art. 7º, Inciso I, Alínea &quot;b&quot;.</text>
<text x="702.40" y="99.00" font-size="7.40" font-weight="400" fill="#1c1c1c" stroke="#1c1c1c" stroke-width="0.1" textLength="40.67" lengthAdjust="spacingAndGlyphs">LIMITE: 100%</text>
<text x="641.40" y="107.90" font-size="7.40" font-weight="400" fill="#1c1c1c" stroke="#1c1c1c" stroke-width="0.1" textLength="45.03" lengthAdjust="spacingAndGlyphs">17.350.731,60</text>
<text x="737.30" y="107.90" font-size="7.40" font-weight="400" fill="#1c1c1c" stroke="#1c1c1c" stroke-width="0.1" textLength="22.20" lengthAdjust="spacingAndGlyphs">TOTAL</text>
<text x="660.70" y="117.60" font-size="7.40" font-weight="400" fill="#1c1c1c" stroke="#1c1c1c" stroke-width="0.1" textLength="25.71" lengthAdjust="spacingAndGlyphs">44,38%</text>
<text x="707.50" y="117.60" font-size="7.40" font-weight="400" fill="#1c1c1c" stroke="#1c1c1c" stroke-width="0.1" textLength="52.78" lengthAdjust="spacingAndGlyphs">% DA CARTEIRA</text>
<text x="608.60" y="137.70" font-size="7.40" font-weight="400" fill="#1c1c1c" stroke="#1c1c1c" stroke-width="0.1" textLength="83.71" lengthAdjust="spacingAndGlyphs">Art. 7º, Inciso III, Alínea &quot;a&quot;.</text>
<text x="704.70" y="137.70" font-size="7.40" font-weight="400" fill="#1c1c1c" stroke="#1c1c1c" stroke-width="0.1" textLength="38.40" lengthAdjust="spacingAndGlyphs">LIMITE: 60%</text>
<text x="642.40" y="147.60" font-size="7.40" font-weight="400" fill="#1c1c1c" stroke="#1c1c1c" stroke-width="0.1" textLength="44.03" lengthAdjust="spacingAndGlyphs">19.401.077,31</text>
<text x="737.30" y="147.60" font-size="7.40" font-weight="400" fill="#1c1c1c" stroke="#1c1c1c" stroke-width="0.1" textLength="22.20" lengthAdjust="spacingAndGlyphs">TOTAL</text>
<text x="660.70" y="157.00" font-size="7.40" font-weight="400" fill="#1c1c1c" stroke="#1c1c1c" stroke-width="0.1" textLength="25.71" lengthAdjust="spacingAndGlyphs">49,62%</text>
<text x="707.50" y="157.00" font-size="7.40" font-weight="400" fill="#1c1c1c" stroke="#1c1c1c" stroke-width="0.1" textLength="52.78" lengthAdjust="spacingAndGlyphs">% DA CARTEIRA</text>
<text x="613.80" y="187.00" font-size="7.40" font-weight="400" fill="#1c1c1c" stroke="#1c1c1c" stroke-width="0.1" textLength="48.67" lengthAdjust="spacingAndGlyphs">Art. 9º, inciso III.</text>
<text x="704.50" y="187.00" font-size="7.40" font-weight="400" fill="#1c1c1c" stroke="#1c1c1c" stroke-width="0.1" textLength="33.52" lengthAdjust="spacingAndGlyphs">LIMITE: 5%</text>
<text x="644.20" y="196.60" font-size="7.40" font-weight="400" fill="#1c1c1c" stroke="#1c1c1c" stroke-width="0.1" textLength="42.19" lengthAdjust="spacingAndGlyphs">2.344.272,10</text>
<text x="737.30" y="196.60" font-size="7.40" font-weight="400" fill="#1c1c1c" stroke="#1c1c1c" stroke-width="0.1" textLength="22.20" lengthAdjust="spacingAndGlyphs">TOTAL</text>
<text x="665.30" y="207.30" font-size="7.40" font-weight="400" fill="#1c1c1c" stroke="#1c1c1c" stroke-width="0.1" textLength="21.07" lengthAdjust="spacingAndGlyphs">6,00%</text>
<text x="707.50" y="207.30" font-size="7.40" font-weight="400" fill="#1c1c1c" stroke="#1c1c1c" stroke-width="0.1" textLength="52.78" lengthAdjust="spacingAndGlyphs">% DA CARTEIRA</text>
<text x="22.60" y="256.50" font-size="7.40" font-weight="400" fill="#dbe3f3" stroke="#dbe3f3" stroke-width="0.1" textLength="36.77" lengthAdjust="spacingAndGlyphs">SUBTOTAL</text>
<text x="193.30" y="256.50" font-size="7.40" font-weight="400" fill="#dbe3f3" stroke="#dbe3f3" stroke-width="0.1" textLength="45.03" lengthAdjust="spacingAndGlyphs">38.393.141,09</text>
<text x="258.20" y="256.50" font-size="7.40" font-weight="400" fill="#dbe3f3" stroke="#dbe3f3" stroke-width="0.1" textLength="40.99" lengthAdjust="spacingAndGlyphs">1.096.815,39</text>
<text x="310.50" y="256.50" font-size="7.40" font-weight="400" fill="#dbe3f3" stroke="#dbe3f3" stroke-width="0.1" textLength="37.93" lengthAdjust="spacingAndGlyphs">823.684,04</text>
<text x="621.30" y="256.70" font-size="6.00" font-weight="400" fill="#e8eef8" stroke="#e8eef8" stroke-width="0.1" textLength="108.51" lengthAdjust="spacingAndGlyphs">ATINGIDO DA META ATUARIAL  MÊS</text>
<text x="23.30" y="267.10" font-size="7.40" font-weight="400" fill="#141414" stroke="#141414" stroke-width="0.1" textLength="143.39" lengthAdjust="spacingAndGlyphs">TOTAL DE RENDIMENTOS DO MÊS EM REAIS</text>
<text x="23.30" y="278.80" font-size="7.40" font-weight="400" fill="#141414" stroke="#141414" stroke-width="0.1" textLength="163.23" lengthAdjust="spacingAndGlyphs">TOTAL DE RENDIMENTO DO MÊS EM PERCENTUAL</text>
<text x="358.90" y="268.20" font-size="11.20" font-weight="700" fill="#111" stroke="#111" stroke-width="0.2" textLength="61.45" lengthAdjust="spacingAndGlyphs">429.808,57</text>
<text x="387.30" y="279.40" font-size="11.20" font-weight="700" fill="#111" stroke="#111" stroke-width="0.2" textLength="32.95" lengthAdjust="spacingAndGlyphs">1,12%</text>
<text x="430.50" y="273.60" font-size="11.60" font-weight="400" fill="#e4ebf8" stroke="#e4ebf8" stroke-width="0.2" textLength="33.00" lengthAdjust="spacingAndGlyphs">TOTAL</text>
<text x="486.30" y="274.60" font-size="13.60" font-weight="400" fill="#e4ebf8" stroke="#e4ebf8" stroke-width="0.2" textLength="87.56" lengthAdjust="spacingAndGlyphs">39.096.081,01</text>
<text x="653.20" y="277.10" font-size="17.40" font-weight="400" fill="#f2f6fc" stroke="#f2f6fc" stroke-width="0.2" textLength="44.86" lengthAdjust="spacingAndGlyphs">145%</text>
<text x="77.50" y="288.80" font-size="8.00" font-weight="400" fill="#c9d5ee" stroke="#c9d5ee" stroke-width="0.1" textLength="105.91" lengthAdjust="spacingAndGlyphs">INDICES RENTABILIDADE MÊS</text>
<text x="22.90" y="298.70" font-size="7.40" font-weight="400" fill="#141414" stroke="#141414" stroke-width="0.1" textLength="56.71" lengthAdjust="spacingAndGlyphs">RENT.  INPREMAF</text>
<text x="219.90" y="298.70" font-size="7.40" font-weight="400" fill="#141414" stroke="#141414" stroke-width="0.1" textLength="17.67" lengthAdjust="spacingAndGlyphs">1,12%</text>
<text x="22.90" y="308.70" font-size="7.40" font-weight="400" fill="#141414" stroke="#141414" stroke-width="0.1" textLength="53.58" lengthAdjust="spacingAndGlyphs">META ATUARIAL</text>
<text x="216.80" y="308.70" font-size="7.40" font-weight="400" fill="#141414" stroke="#141414" stroke-width="0.1" textLength="20.77" lengthAdjust="spacingAndGlyphs">0,77%</text>
<text x="22.90" y="318.70" font-size="7.40" font-weight="400" fill="#141414" stroke="#141414" stroke-width="0.1" textLength="30.21" lengthAdjust="spacingAndGlyphs">DI (TAXA)</text>
<text x="219.90" y="318.70" font-size="7.40" font-weight="400" fill="#141414" stroke="#141414" stroke-width="0.1" textLength="17.67" lengthAdjust="spacingAndGlyphs">1,16%</text>
<text x="22.90" y="328.20" font-size="7.40" font-weight="400" fill="#141414" stroke="#141414" stroke-width="0.1" textLength="19.78" lengthAdjust="spacingAndGlyphs">IMA-B</text>
<text x="216.80" y="328.20" font-size="7.40" font-weight="400" fill="#141414" stroke="#141414" stroke-width="0.1" textLength="20.77" lengthAdjust="spacingAndGlyphs">0,40%</text>
<text x="22.90" y="337.60" font-size="7.40" font-weight="400" fill="#141414" stroke="#141414" stroke-width="0.1" textLength="19.18" lengthAdjust="spacingAndGlyphs">IRF-M</text>
<text x="216.80" y="337.60" font-size="7.40" font-weight="400" fill="#141414" stroke="#141414" stroke-width="0.1" textLength="20.77" lengthAdjust="spacingAndGlyphs">0,30%</text>
<text x="314.70" y="288.90" font-size="7.80" font-weight="400" fill="#c9d5ee" stroke="#c9d5ee" stroke-width="0.1" textLength="95.39" lengthAdjust="spacingAndGlyphs">PARTICIPAÇÃO POR BANCO</text>
<text x="302.90" y="298.40" font-size="7.60" font-weight="400" fill="#141414" stroke="#141414" stroke-width="0.1" textLength="12.80" lengthAdjust="spacingAndGlyphs">CEF</text>
<text x="379.00" y="298.40" font-size="7.60" font-weight="400" fill="#141414" stroke="#141414" stroke-width="0.1" textLength="42.93" lengthAdjust="spacingAndGlyphs">17.660.541,41</text>
<text x="302.90" y="308.30" font-size="7.60" font-weight="400" fill="#141414" stroke="#141414" stroke-width="0.1" textLength="8.83" lengthAdjust="spacingAndGlyphs">BB</text>
<text x="374.10" y="308.30" font-size="7.60" font-weight="400" fill="#141414" stroke="#141414" stroke-width="0.1" textLength="47.83" lengthAdjust="spacingAndGlyphs">20.795.756,34</text>
<text x="302.90" y="318.30" font-size="7.60" font-weight="400" fill="#141414" stroke="#141414" stroke-width="0.1" textLength="38.72" lengthAdjust="spacingAndGlyphs">BRADESCO</text>
<text x="385.00" y="318.30" font-size="7.60" font-weight="400" fill="#141414" stroke="#141414" stroke-width="0.1" textLength="36.93" lengthAdjust="spacingAndGlyphs">323.627,76</text>
<text x="302.90" y="328.00" font-size="7.60" font-weight="400" fill="#141414" stroke="#141414" stroke-width="0.1" textLength="14.07" lengthAdjust="spacingAndGlyphs">BNB</text>
<text x="387.30" y="328.00" font-size="7.60" font-weight="400" fill="#141414" stroke="#141414" stroke-width="0.1" textLength="34.63" lengthAdjust="spacingAndGlyphs">316.155,50</text>
<text x="548.75" y="298.90" font-size="6.60" font-weight="700" fill="#a9bde6" stroke="#a9bde6" stroke-width="0.1" textLength="25.46" lengthAdjust="spacingAndGlyphs">DIVISÃO</text>
<text x="617.10" y="298.90" font-size="8.60" font-weight="400" fill="#c9d5ee" stroke="#c9d5ee" stroke-width="0.1" textLength="116.90" lengthAdjust="spacingAndGlyphs">ESTRATÉGIA DE INVESTIMENTOS</text>
<text x="592.10" y="308.30" font-size="7.40" font-weight="400" fill="#141414" stroke="#141414" stroke-width="0.1" textLength="6.20" lengthAdjust="spacingAndGlyphs">DI</text>
<text x="714.10" y="308.30" font-size="7.40" font-weight="400" fill="#141414" stroke="#141414" stroke-width="0.1" textLength="46.03" lengthAdjust="spacingAndGlyphs">17.758.535,94</text>
<text x="592.10" y="318.20" font-size="7.40" font-weight="400" fill="#141414" stroke="#141414" stroke-width="0.1" textLength="18.50" lengthAdjust="spacingAndGlyphs">IRFM1</text>
<text x="719.80" y="318.20" font-size="7.40" font-weight="400" fill="#141414" stroke="#141414" stroke-width="0.1" textLength="40.29" lengthAdjust="spacingAndGlyphs">8.671.536,18</text>
<text x="592.10" y="328.00" font-size="7.40" font-weight="400" fill="#141414" stroke="#141414" stroke-width="0.1" textLength="39.97" lengthAdjust="spacingAndGlyphs">RENDA FIXA</text>
<text x="719.80" y="328.00" font-size="7.40" font-weight="400" fill="#141414" stroke="#141414" stroke-width="0.1" textLength="40.29" lengthAdjust="spacingAndGlyphs">1.642.541,37</text>
<text x="592.10" y="337.55" font-size="7.40" font-weight="400" fill="#141414" stroke="#141414" stroke-width="0.1" textLength="23.33" lengthAdjust="spacingAndGlyphs">IMA-B5</text>
<text x="719.80" y="337.55" font-size="7.40" font-weight="400" fill="#141414" stroke="#141414" stroke-width="0.1" textLength="40.29" lengthAdjust="spacingAndGlyphs">6.521.616,58</text>
<text x="592.10" y="347.40" font-size="7.40" font-weight="400" fill="#141414" stroke="#141414" stroke-width="0.1" textLength="15.36" lengthAdjust="spacingAndGlyphs">IDKA</text>
<text x="719.80" y="347.40" font-size="7.40" font-weight="400" fill="#141414" stroke="#141414" stroke-width="0.1" textLength="40.29" lengthAdjust="spacingAndGlyphs">1.341.483,25</text>
<text x="592.90" y="357.00" font-size="8.00" font-weight="700" fill="#111" stroke="#111" stroke-width="0.1" textLength="88.78" lengthAdjust="spacingAndGlyphs">TOTAL CONSERVADOR</text>
<text x="704.90" y="357.00" font-size="8.00" font-weight="700" fill="#111" stroke="#111" stroke-width="0.1" textLength="55.24" lengthAdjust="spacingAndGlyphs">35.935.713,32</text>
<text x="592.10" y="368.70" font-size="7.40" font-weight="400" fill="#141414" stroke="#141414" stroke-width="0.1" textLength="53.21" lengthAdjust="spacingAndGlyphs">AÇÕES GLOBAL</text>
<text x="717.50" y="368.70" font-size="7.40" font-weight="400" fill="#141414" stroke="#141414" stroke-width="0.1" textLength="42.59" lengthAdjust="spacingAndGlyphs">2.344.272,10</text>
<text x="592.10" y="380.10" font-size="7.40" font-weight="400" fill="#141414" stroke="#141414" stroke-width="0.1" textLength="30.88" lengthAdjust="spacingAndGlyphs">IMA-B5+</text>
<text x="724.60" y="380.10" font-size="7.40" font-weight="400" fill="#141414" stroke="#141414" stroke-width="0.1" textLength="35.53" lengthAdjust="spacingAndGlyphs">816.095,59</text>
<text x="592.90" y="393.60" font-size="8.00" font-weight="700" fill="#111" stroke="#111" stroke-width="0.1" textLength="71.86" lengthAdjust="spacingAndGlyphs">TOTAL ARROJADO</text>
<text x="709.10" y="393.60" font-size="8.00" font-weight="700" fill="#111" stroke="#111" stroke-width="0.1" textLength="50.98" lengthAdjust="spacingAndGlyphs">3.160.367,69</text>
<text x="541.50" y="335.00" font-size="13.60" font-weight="400" fill="#333" stroke="#333" stroke-width="0.2" textLength="40.62" lengthAdjust="spacingAndGlyphs">91,92%</text>
<text x="544.90" y="381.60" font-size="13.60" font-weight="400" fill="#333" stroke="#333" stroke-width="0.2" textLength="34.64" lengthAdjust="spacingAndGlyphs">8,08%</text>
<defs>
<linearGradient id="cbg" gradientUnits="userSpaceOnUse" x1="0" y1="345" x2="0" y2="432">
 <stop offset="0" stop-color="#ffffff"/><stop offset="0.3" stop-color="#fafafa"/><stop offset="0.7" stop-color="#ebebeb"/><stop offset="0.86" stop-color="#e6e6e6"/><stop offset="0.88" stop-color="#fbfbfb"/><stop offset="1" stop-color="#ffffff"/>
</linearGradient>
<linearGradient id="bar" x1="0" y1="0" x2="0" y2="1">
 <stop offset="0" stop-color="#4673c4"/><stop offset="1" stop-color="#3c67b8"/>
</linearGradient>
<filter id="blur1" x="-50%" y="-50%" width="200%" height="200%"><feGaussianBlur stdDeviation="1.3"/></filter>
</defs>
<rect x="19.0" y="345.2" width="240.9" height="86.8" fill="url(#cbg)" stroke="#d4d4d4" stroke-width="0.8"/>
<polygon points="64.8,405.5 77.8,411.5 77.8,420.4 64.8,420.4" fill="#cfcfcf" opacity="0.9" filter="url(#blur1)"/>
<polygon points="111.1,405.5 124.1,411.5 124.1,420.4 111.1,420.4" fill="#cfcfcf" opacity="0.9" filter="url(#blur1)"/>
<polygon points="158.6,405.5 171.6,411.5 171.6,420.4 158.6,420.4" fill="#cfcfcf" opacity="0.9" filter="url(#blur1)"/>
<polygon points="205.8,405.5 218.8,411.5 218.8,420.4 205.8,420.4" fill="#cfcfcf" opacity="0.9" filter="url(#blur1)"/>
<polygon points="251.9,408.0 264.9,414.0 264.9,420.4 251.9,420.4" fill="#cfcfcf" opacity="0.9" filter="url(#blur1)"/>
<rect x="31.1" y="360.0" width="33.7" height="60.4" fill="url(#bar)"/>
<rect x="77.8" y="379.3" width="33.3" height="41.1" fill="url(#bar)"/>
<rect x="125.3" y="358.2" width="33.3" height="62.2" fill="url(#bar)"/>
<rect x="172.6" y="399.4" width="33.2" height="21.0" fill="url(#bar)"/>
<rect x="219.1" y="405.0" width="32.8" height="15.4" fill="url(#bar)"/>
<path d="M375.20,385.20 L375.20,341.00 A44.2,44.2 0 0 1 388.40,427.38 Z" fill="#4472c4" stroke="#ffffff" stroke-width="0.9" stroke-linejoin="round"/>
<path d="M375.20,385.20 L388.40,427.38 A44.2,44.2 0 1 1 370.66,341.23 Z" fill="#a5a5a5" stroke="#ffffff" stroke-width="0.9" stroke-linejoin="round"/>
<path d="M375.20,385.20 L370.66,341.23 A44.2,44.2 0 0 1 372.96,341.06 Z" fill="#c9d6ee" stroke="#ffffff" stroke-width="0.9" stroke-linejoin="round"/>
<path d="M375.20,385.20 L372.96,341.06 A44.2,44.2 0 0 1 375.20,341.00 Z" fill="#8fa9dc" stroke="#ffffff" stroke-width="0.9" stroke-linejoin="round"/>
<polyline points="329.8,343.6 345,342.4 370.9,341.0" fill="none" stroke="#7f7f7f" stroke-width="0.8"/>
<polyline points="374.4,341.0 420,342.6 436.5,344.2" fill="none" stroke="#7f7f7f" stroke-width="0.8"/>
<text x="37.50" y="369.00" font-size="7.00" font-weight="700" fill="#ffffff" stroke="#ffffff" stroke-width="0.1" textLength="19.77" lengthAdjust="spacingAndGlyphs">1,12%</text>
<text x="27.90" y="429.00" font-size="5.60" font-weight="400" fill="#595959" stroke="#595959" stroke-width="0.1" textLength="39.20" lengthAdjust="spacingAndGlyphs">RENT.   INPREMAF</text>
<text x="84.70" y="387.60" font-size="7.00" font-weight="700" fill="#ffffff" stroke="#ffffff" stroke-width="0.1" textLength="19.27" lengthAdjust="spacingAndGlyphs">0,77%</text>
<text x="76.10" y="429.00" font-size="5.60" font-weight="400" fill="#595959" stroke="#595959" stroke-width="0.1" textLength="36.49" lengthAdjust="spacingAndGlyphs">META ATUARIAL</text>
<text x="132.90" y="366.80" font-size="7.00" font-weight="700" fill="#ffffff" stroke="#ffffff" stroke-width="0.1" textLength="18.17" lengthAdjust="spacingAndGlyphs">1,16%</text>
<text x="131.20" y="429.00" font-size="5.60" font-weight="400" fill="#595959" stroke="#595959" stroke-width="0.1" textLength="21.01" lengthAdjust="spacingAndGlyphs">DI (TAXA)</text>
<text x="179.00" y="407.60" font-size="7.00" font-weight="700" fill="#ffffff" stroke="#ffffff" stroke-width="0.1" textLength="19.27" lengthAdjust="spacingAndGlyphs">0,40%</text>
<text x="182.20" y="429.00" font-size="5.60" font-weight="400" fill="#595959" stroke="#595959" stroke-width="0.1" textLength="12.89" lengthAdjust="spacingAndGlyphs">IMA-B</text>
<text x="225.50" y="413.40" font-size="7.00" font-weight="700" fill="#ffffff" stroke="#ffffff" stroke-width="0.1" textLength="19.47" lengthAdjust="spacingAndGlyphs">0,30%</text>
<text x="229.00" y="429.00" font-size="5.60" font-weight="400" fill="#595959" stroke="#595959" stroke-width="0.1" textLength="13.28" lengthAdjust="spacingAndGlyphs">IRF-M</text>
<text x="298.20" y="344.90" font-size="8.60" font-weight="400" fill="#262626" stroke="#262626" stroke-width="0.1" textLength="30.52" lengthAdjust="spacingAndGlyphs">BRADES</text>
<text x="308.30" y="357.80" font-size="8.60" font-weight="400" fill="#262626" stroke="#262626" stroke-width="0.1" textLength="11.00" lengthAdjust="spacingAndGlyphs">CO</text>
<text x="307.60" y="369.50" font-size="8.60" font-weight="400" fill="#262626" stroke="#262626" stroke-width="0.1" textLength="11.66" lengthAdjust="spacingAndGlyphs">1%</text>
<text x="437.20" y="344.90" font-size="8.60" font-weight="400" fill="#262626" stroke="#262626" stroke-width="0.1" textLength="16.77" lengthAdjust="spacingAndGlyphs">BNB</text>
<text x="440.00" y="357.80" font-size="8.60" font-weight="400" fill="#262626" stroke="#262626" stroke-width="0.1" textLength="11.66" lengthAdjust="spacingAndGlyphs">1%</text>
<text x="390.30" y="368.80" font-size="8.60" font-weight="400" fill="#172a58" stroke="#172a58" stroke-width="0.1" textLength="15.20" lengthAdjust="spacingAndGlyphs">CEF</text>
<text x="388.90" y="381.20" font-size="8.60" font-weight="400" fill="#172a58" stroke="#172a58" stroke-width="0.1" textLength="17.11" lengthAdjust="spacingAndGlyphs">45%</text>
<text x="339.90" y="387.00" font-size="8.60" font-weight="400" fill="#262626" stroke="#262626" stroke-width="0.1" textLength="10.63" lengthAdjust="spacingAndGlyphs">BB</text>
<text x="336.90" y="399.00" font-size="8.60" font-weight="400" fill="#262626" stroke="#262626" stroke-width="0.1" textLength="16.41" lengthAdjust="spacingAndGlyphs">53%</text>
</svg></body></html>
